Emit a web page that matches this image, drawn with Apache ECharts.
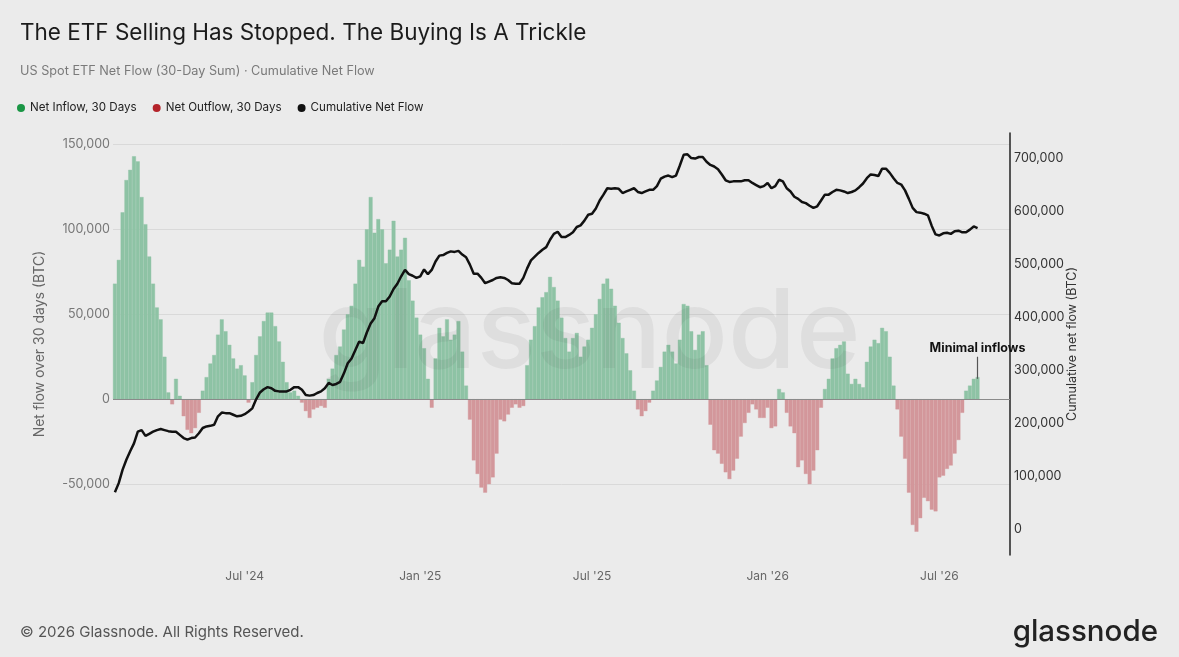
<!DOCTYPE html>
<html>
<head>
<meta charset="UTF-8">
<title>ETF Net Flow</title>
<script src="https://cdn.jsdelivr.net/npm/echarts@6.0.0/dist/echarts.min.js"></script>
<style>
  html, body { margin: 0; padding: 0; background: #ebebeb; }
  #chart { width: 1179px; height: 657px; }
</style>
</head>
<body>
<div id="chart"></div>
<script>
// one sample every 4 days, first sample 2024-02-18
var startDate = Date.UTC(2024, 1, 18);
var stepDays = 4;
var categoryCount = 235; // axis runs a little past the last sample

// 30-day sum of net flow (BTC)
var netFlow30d = [
  68000, 82000, 110000, 129000, 135000, 143000, 140000, 119000, 103000, 84000,
  68000, 54000, 47000, 25000, 4000, -3000, 12000, 2000, -10000, -18000,
  -20000, -17000, -8000, 5000, 13000, 21000, 26000, 38000, 47000, 40000,
  32000, 24000, 18000, 20000, 14000, -2000, 10000, 26000, 37000, 46000,
  51000, 51000, 43000, 34000, 22000, 10000, 4000, 5000, 2000, -2000,
  -7000, -11000, -6000, -5000, -4000, -5000, 12000, 18000, 26000, 31000,
  41000, 50000, 55000, 68000, 82000, 78000, 100000, 119000, 98000, 106000,
  100000, 80000, 88000, 105000, 84000, 88000, 95000, 70000, 58000, 48000,
  38000, 30000, 12000, -5000, 24000, 42000, 37000, 47000, 35000, 38000,
  46000, 28000, 8000, -12000, -36000, -44000, -52000, -55000, -50000, -46000,
  -32000, -12000, -13000, -9000, -5000, -3000, -5000, -4000, 20000, 35000,
  43000, 54000, 60000, 63000, 72000, 66000, 58000, 48000, 36000, 28000,
  36000, 39000, 25000, 31000, 35000, 42000, 50000, 59000, 68000, 71000,
  65000, 55000, 45000, 36000, 27000, 17000, 5000, -6000, -10000, -7000,
  -2000, 5000, 11000, 19000, 28000, 32000, 28000, 21000, 35000, 56000,
  55000, 40000, 29000, 38000, 40000, 20000, -15000, -30000, -32000, -38000,
  -43000, -47000, -42000, -35000, -22000, -14000, -8000, -3000, -6000, -11000,
  -11000, -5000, -17000, -16000, 6000, 4000, -8000, -16000, -20000, -40000,
  -36000, -44000, -50000, -42000, -30000, -5000, 6000, 12000, 24000, 30000,
  32000, 34000, 15000, 9000, 12000, 9000, 7000, 22000, 31000, 35000,
  33000, 42000, 40000, 25000, 8000, -6000, -22000, -35000, -55000, -74000,
  -78000, -70000, -58000, -60000, -65000, -66000, -46000, -45000, -41000, -39000,
  -32000, -24000, -8000, 5000, 8000, 12000, 13000
];

// cumulative net flow (BTC)
var cumulativeFlow = [
  70000, 87000, 112000, 131000, 147000, 162000, 184000, 187000, 176000, 180000,
  184000, 187000, 189000, 187000, 185000, 184000, 184000, 178000, 172000, 169000,
  172000, 173000, 181000, 191000, 194000, 195000, 197000, 213000, 220000, 219000,
  219000, 216000, 213000, 214000, 217000, 222000, 228000, 245000, 258000, 264000,
  268000, 266000, 261000, 260000, 260000, 260000, 263000, 268000, 268000, 263000,
  253000, 252000, 253000, 257000, 260000, 266000, 276000, 272000, 274000, 278000,
  294000, 313000, 322000, 338000, 354000, 351000, 371000, 388000, 398000, 420000,
  430000, 430000, 439000, 453000, 463000, 477000, 489000, 481000, 478000, 474000,
  477000, 490000, 481000, 489000, 505000, 516000, 517000, 521000, 524000, 523000,
  525000, 518000, 513000, 499000, 482000, 482000, 474000, 464000, 467000, 470000,
  474000, 475000, 474000, 470000, 464000, 463000, 463000, 474000, 492000, 507000,
  514000, 521000, 527000, 532000, 546000, 557000, 561000, 551000, 551000, 555000,
  560000, 570000, 573000, 582000, 593000, 595000, 605000, 620000, 631000, 643000,
  642000, 643000, 642000, 634000, 637000, 640000, 643000, 636000, 634000, 637000,
  640000, 640000, 647000, 661000, 665000, 667000, 664000, 667000, 686000, 706000,
  707000, 700000, 699000, 702000, 702000, 693000, 687000, 684000, 679000, 669000,
  658000, 655000, 656000, 656000, 656000, 658000, 658000, 653000, 649000, 645000,
  647000, 653000, 643000, 647000, 659000, 656000, 643000, 637000, 627000, 623000,
  617000, 615000, 610000, 606000, 609000, 620000, 631000, 631000, 636000, 640000,
  639000, 637000, 634000, 636000, 639000, 645000, 652000, 662000, 669000, 668000,
  666000, 680000, 680000, 672000, 662000, 653000, 650000, 639000, 623000, 606000,
  598000, 597000, 595000, 592000, 572000, 556000, 554000, 558000, 559000, 557000,
  562000, 563000, 560000, 560000, 565000, 571000, 568000
];

var leftTicks = [-50000, 0, 50000, 100000, 150000];
var rightTicks = [0, 100000, 200000, 300000, 400000, 500000, 600000, 700000];
var monthNames = ['Jan', 'Feb', 'Mar', 'Apr', 'May', 'Jun', 'Jul', 'Aug', 'Sep', 'Oct', 'Nov', 'Dec'];

// annotation: arrow over the latest inflow bars
var annotationIndex = 226;
var annotationFrom = 25000;
var annotationTo = 12000;

function pad(n) { return n < 10 ? '0' + n : '' + n; }

var dates = [];
for (var i = 0; i < categoryCount; i++) {
  var d = new Date(startDate + i * stepDays * 86400000);
  dates.push(d.getUTCFullYear() + '-' + pad(d.getUTCMonth() + 1) + '-' + pad(d.getUTCDate()));
}

// first sample of January / July gets a label
function isHalfYearStart(value) {
  var m = +value.slice(5, 7);
  var day = +value.slice(8, 10);
  return (m === 1 || m === 7) && day <= stepDays;
}

var inflow = netFlow30d.map(function (v) { return v > 0 ? v : '-'; });
var outflow = netFlow30d.map(function (v) { return v < 0 ? v : '-'; });

var greenBar = '#8ec3a5';
var redBar = '#d3979b';
var fontFamily = 'Inter, Roboto, sans-serif';
var chart = echarts.init(document.getElementById('chart'));

chart.setOption({
  backgroundColor: '#ebebeb',
  textStyle: { fontFamily: fontFamily },
  animation: false,
  title: {
    left: 20,
    top: 20,
    padding: 0,
    text: 'The ETF Selling Has Stopped. The Buying Is A Trickle',
    textStyle: { fontSize: 22.5, fontWeight: 'normal', color: '#1b1b1b', lineHeight: 26 },
    subtext: 'US Spot ETF Net Flow (30-Day Sum) · Cumulative Net Flow',
    subtextStyle: { fontSize: 12.7, color: '#7a7a7a', lineHeight: 16 },
    itemGap: 17
  },
  legend: {
    left: 12,
    top: 97,
    icon: 'circle',
    itemWidth: 8,
    itemHeight: 8,
    itemGap: 16,
    textStyle: { fontSize: 11.6, color: '#222' },
    data: [
      { name: 'Net Inflow, 30 Days', itemStyle: { color: '#1a9645', borderWidth: 0 } },
      { name: 'Net Outflow, 30 Days', itemStyle: { color: '#b4232a', borderWidth: 0 } },
      { name: 'Cumulative Net Flow', itemStyle: { color: '#111', borderWidth: 0 } }
    ]
  },
  grid: { left: 113, right: 169, top: 133, bottom: 102 },
  xAxis: {
    type: 'category',
    data: dates,
    boundaryGap: true,
    axisLine: { show: false },
    axisTick: { show: false },
    splitLine: { show: false },
    axisLabel: {
      color: '#666',
      fontSize: 12,
      margin: 15,
      interval: function (index, value) { return isHalfYearStart(value); },
      formatter: function (value) {
        return monthNames[+value.slice(5, 7) - 1] + " '" + value.slice(2, 4);
      }
    }
  },
  yAxis: [{
    type: 'value',
    position: 'left',
    min: -91700,
    max: 156700,
    name: 'Net flow over 30 days (BTC)',
    nameLocation: 'middle',
    nameGap: 66,
    nameRotate: 90,
    nameMoveOverlap: false,
    nameTextStyle: { fontSize: 14, color: '#666' },
    axisLine: { show: false },
    axisTick: { show: false, customValues: leftTicks },
    axisLabel: {
      customValues: leftTicks,
      color: '#777',
      fontSize: 12.5,
      margin: 3,
      formatter: function (v) { return v.toLocaleString('en-US'); }
    },
    splitLine: { show: true, lineStyle: { color: '#d9d9d9', width: 1 } }
  }, {
    type: 'value',
    position: 'right',
    min: -48500,
    max: 747200,
    name: 'Cumulative net flow (BTC)',
    nameLocation: 'middle',
    nameGap: 56,
    nameRotate: 90,
    nameMoveOverlap: false,
    nameTextStyle: { fontSize: 12.5, color: '#333' },
    axisLine: { show: true, lineStyle: { color: '#222', width: 1.5 } },
    axisTick: { show: false, customValues: rightTicks },
    axisLabel: {
      customValues: rightTicks,
      color: '#333',
      fontSize: 12.5,
      margin: 4,
      formatter: function (v) { return v.toLocaleString('en-US'); }
    },
    splitLine: { show: false }
  }],
  series: [{
    name: 'Net Inflow, 30 Days',
    type: 'bar',
    data: inflow,
    barGap: '-100%',
    barCategoryGap: '0%',
    itemStyle: { color: greenBar, borderColor: greenBar, borderWidth: 0.4 },
    z: 2,
    markLine: {
      silent: true,
      symbol: ['none', 'arrow'],
      symbolSize: [0, 8],
      lineStyle: { color: '#555', width: 1.2, type: 'solid' },
      label: {
        show: true,
        position: 'start',
        formatter: 'Minimal inflows',
        fontSize: 12.5,
        fontWeight: 'bold',
        color: '#111',
        distance: 2
      },
      data: [[
        { coord: [dates[annotationIndex], annotationFrom] },
        { coord: [dates[annotationIndex], annotationTo] }
      ]]
    }
  }, {
    name: 'Net Outflow, 30 Days',
    type: 'bar',
    data: outflow,
    barGap: '-100%',
    barCategoryGap: '0%',
    itemStyle: { color: redBar, borderColor: redBar, borderWidth: 0.4 },
    z: 2,
    markLine: {
      silent: true,
      symbol: 'none',
      label: { show: false },
      lineStyle: { color: '#8a8a8a', width: 1, type: 'solid' },
      data: [{ yAxis: 0 }]
    }
  }, {
    name: 'Cumulative Net Flow',
    type: 'line',
    yAxisIndex: 1,
    data: cumulativeFlow,
    showSymbol: false,
    symbol: 'none',
    lineStyle: { color: '#111', width: 2.5 },
    itemStyle: { color: '#111' },
    z: 5
  }],
  graphic: [{
    type: 'text',
    left: 'center',
    top: 280,
    z: 50,
    silent: true,
    style: {
      text: 'glassnode',
      font: '500 110px ' + fontFamily,
      fill: 'rgba(60,60,60,0.07)'
    }
  }, {
    type: 'text',
    left: 20,
    top: 625,
    style: {
      text: '© 2026 Glassnode. All Rights Reserved.',
      font: '15px ' + fontFamily,
      fill: '#555'
    }
  }, {
    type: 'text',
    right: 21,
    top: 617,
    style: {
      text: 'glassnode',
      font: '500 29.5px ' + fontFamily,
      fill: '#222'
    }
  }]
});
</script>
</body>
</html>
